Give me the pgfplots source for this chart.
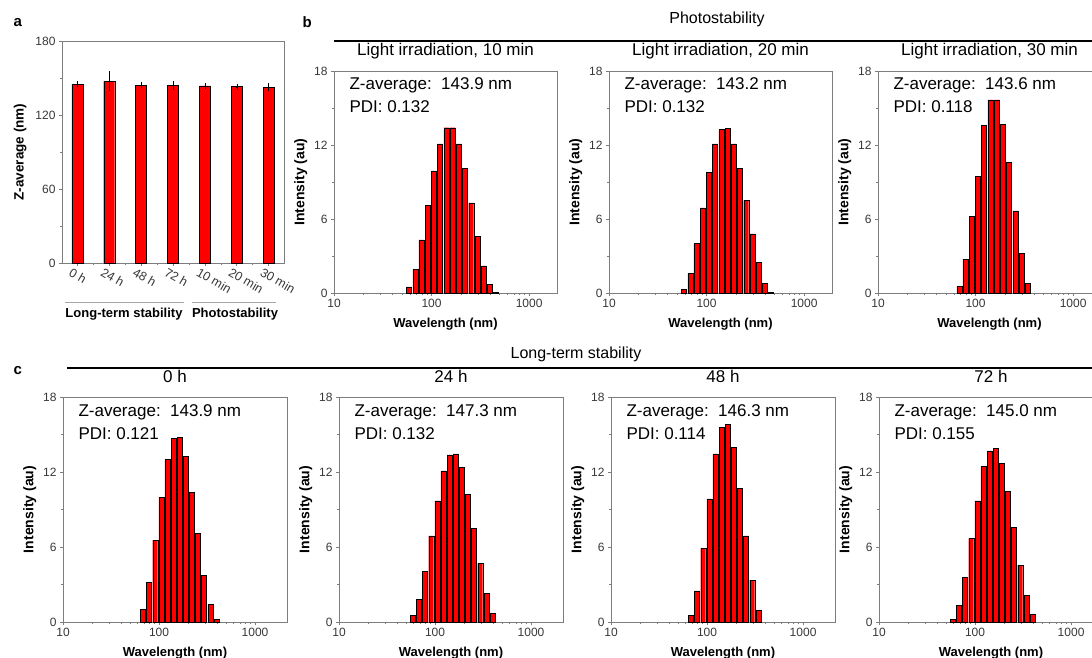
\documentclass[border=0pt]{standalone}
\usepackage{fontspec}
\setmainfont{Liberation Sans}
\usepackage{pgfplots}
\pgfplotsset{compat=1.18}
\definecolor{barred}{RGB}{255,0,0}
\definecolor{framegray}{RGB}{125,125,125}
\definecolor{tickgray}{RGB}{55,55,55}
\pgfplotsset{
  mycommon/.style={
    scale only axis,
    anchor=north west,
    axis line style={framegray, line width=0.8pt},
    tick style={framegray, line width=0.6pt},
    tick align=outside,
    major tick length=3pt, minor tick length=1.8pt,
    xtick pos=left, ytick pos=left,
    ticklabel style={font=\fontsize{12}{13}\selectfont, text=tickgray},
    label style={font=\bfseries\fontsize{13}{14}\selectfont},
    clip=false,
  },
  dlshist/.style={
    mycommon,
    ymin=0, ymax=18, ytick={0,6,12,18}, minor y tick num=1,
    xmin=10, xtick={10,100,1000}, xticklabels={10,100,1000},
    minor xtick={20,30,40,50,60,70,80,90,200,300,400,500,600,700,800,900},
    xlabel={Wavelength (nm)}, ylabel={Intensity (au)},
    xlabel style={yshift=-3pt},
    ylabel style={font=\bfseries\fontsize{14}{15}\selectfont},
    ybar, bar width=5pt,
    title style={at={(0.5,1)}, anchor=base, yshift=9pt, font=\fontsize{17}{19}\selectfont},
  },
}
% #1 x, #2 y(top), #3 width, #4 height, #5 xmax, #6 title, #7 Z, #8 PDI, #9 data
\newcommand{\dlsaxis}[9]{%
\begin{semilogxaxis}[dlshist, /pgf/number format/assume math mode=true, at={(#1pt,-#2pt)}, width=#3pt, height=#4pt, xmax=#5, title={#6}]
\addplot[fill=barred, draw=black, line width=0.4pt] coordinates {#9};
\node[anchor=base west, xshift=12pt, yshift=-19pt, font=\fontsize{17}{19}\selectfont] at (rel axis cs:0,1) {Z-average:\ \ #7 nm};
\node[anchor=base west, xshift=12pt, yshift=-42pt, font=\fontsize{17}{19}\selectfont] at (rel axis cs:0,1) {PDI: #8};
\end{semilogxaxis}}
\begin{document}
\begin{tikzpicture}
\path[use as bounding box] (0,0) rectangle (1092pt,-658pt);
% ---------- panel a ----------
\begin{axis}[mycommon, /pgf/number format/assume math mode=true, at={(62pt,-41pt)}, width=222pt, height=222pt,
  ymin=0, ymax=180, ytick={0,60,120,180}, minor y tick num=1,
  xmin=-0.48, xmax=6.48, xtick={0,1,2,3,4,5,6},
  xticklabels={0 h,24 h,48 h,72 h,10 min,20 min,30 min},
  minor xtick={0.5,1.5,2.5,3.5,4.5,5.5},
  xticklabel style={rotate=-30, anchor=north west, xshift=-7pt, font=\fontsize{12.5}{13}\selectfont},
  ylabel={Z-average (nm)}, ylabel style={font=\bfseries\fontsize{13.5}{15}\selectfont, xshift=0pt, yshift=2pt},
  ybar, bar width=11pt]
\addplot[fill=barred, draw=black, line width=0.4pt,
  error bars/.cd, y dir=both, y explicit,
  error bar style={black, line width=0.6pt}, error mark options={black, mark size=2.5pt}]
  coordinates {(0,145.0) +- (0,0.5) (1,147.3) +- (0,6.0) (2,144.1) +- (0,0.5) (3,144.0) +- (0,1.5)
               (4,143.6) +- (0,0.5) (5,143.0) +- (0,0.3) (6,142.5) +- (0,1.2)};
\end{axis}
\draw[gray!70, line width=0.8pt] (65pt,-302pt) -- (184pt,-302pt);
\draw[gray!70, line width=0.8pt] (192pt,-302pt) -- (276pt,-302pt);
\node[anchor=base, font=\bfseries\fontsize{13}{14}\selectfont] at (124pt,-317pt) {Long-term stability};
\node[anchor=base, font=\bfseries\fontsize{13}{14}\selectfont] at (235pt,-317pt) {Photostability};
% ---------- letters and headers ----------
\node[anchor=base west, font=\bfseries\fontsize{15}{16}\selectfont] at (10pt,-27pt) {a};
\node[anchor=base west, font=\bfseries\fontsize{15}{16}\selectfont] at (299pt,-28pt) {b};
\node[anchor=base west, font=\bfseries\fontsize{15}{16}\selectfont] at (10pt,-374pt) {c};
\node[anchor=base, font=\fontsize{16}{18}\selectfont] at (717pt,-24pt) {Photostability};
\draw[line width=1.6pt] (334pt,-41pt) -- (1100pt,-41pt);
\node[anchor=base, font=\fontsize{16}{18}\selectfont] at (576pt,-358pt) {Long-term stability};
\draw[line width=1.6pt] (67pt,-368pt) -- (1100pt,-368pt);
% ---------- panel b ----------
\dlsaxis{334}{71}{223}{222}{1930}{Light irradiation, 10 min}{143.9}{0.132}{(58.77,0.5) (68.06,1.9) (78.82,4.3) (91.28,7.1) (105.7,9.9) (122.4,12.1) (141.8,13.4) (164.2,13.4) (190.1,12.1) (220.2,10.1) (255.0,7.3) (295.3,4.6) (342.0,2.2) (396.1,0.7) (458.7,0.05)}
\dlsaxis{609}{71}{223}{222}{1930}{Light irradiation, 20 min}{143.2}{0.132}{(58.77,0.27) (68.06,1.6) (78.82,4.0) (91.28,6.9) (105.7,9.8) (122.4,12.1) (141.8,13.25) (164.2,13.36) (190.1,12.1) (220.2,10.1) (255.0,7.5) (295.3,4.8) (342.0,2.5) (396.1,0.8) (458.7,0.05)}
\dlsaxis{878}{71}{223}{222}{1930}{Light irradiation, 30 min}{143.6}{0.118}{(68.06,0.54) (78.82,2.75) (91.28,6.2) (105.7,9.45) (122.4,13.6) (141.8,15.65) (164.2,15.65) (190.1,13.7) (220.2,10.6) (255.0,6.65) (295.3,3.2) (342.0,0.8)}
% ---------- panel c ----------
\dlsaxis{63}{397}{224}{225}{2150}{0 h}{143.9}{0.121}{(68.06,1.0) (78.82,3.2) (91.28,6.55) (105.7,10.0) (122.4,13.0) (141.8,14.7) (164.2,14.8) (190.1,13.25) (220.2,10.4) (255.0,7.1) (295.3,3.75) (342.0,1.4) (396.1,0.2)}
\dlsaxis{339}{397}{224}{225}{2150}{24 h}{147.3}{0.132}{(58.77,0.53) (68.06,1.8) (78.82,4.05) (91.28,6.9) (105.7,9.7) (122.4,12.1) (141.8,13.37) (164.2,13.45) (190.1,12.4) (220.2,10.2) (255.0,7.5) (295.3,4.7) (342.0,2.3) (396.1,0.67)}
\dlsaxis{611}{397}{224}{225}{2150}{48 h}{146.3}{0.114}{(68.06,0.53) (78.82,2.5) (91.28,5.9) (105.7,9.85) (122.4,13.45) (141.8,15.55) (164.2,15.8) (190.1,14.0) (220.2,10.7) (255.0,6.9) (295.3,3.35) (342.0,0.95)}
\dlsaxis{879}{397}{224}{225}{2150}{72 h}{145.0}{0.155}{(58.77,0.2) (68.06,1.35) (78.82,3.6) (91.28,6.7) (105.7,9.7) (122.4,12.45) (141.8,13.7) (164.2,13.9) (190.1,12.7) (220.2,10.45) (255.0,7.55) (295.3,4.55) (342.0,2.15) (396.1,0.62)}
\end{tikzpicture}
\end{document}
